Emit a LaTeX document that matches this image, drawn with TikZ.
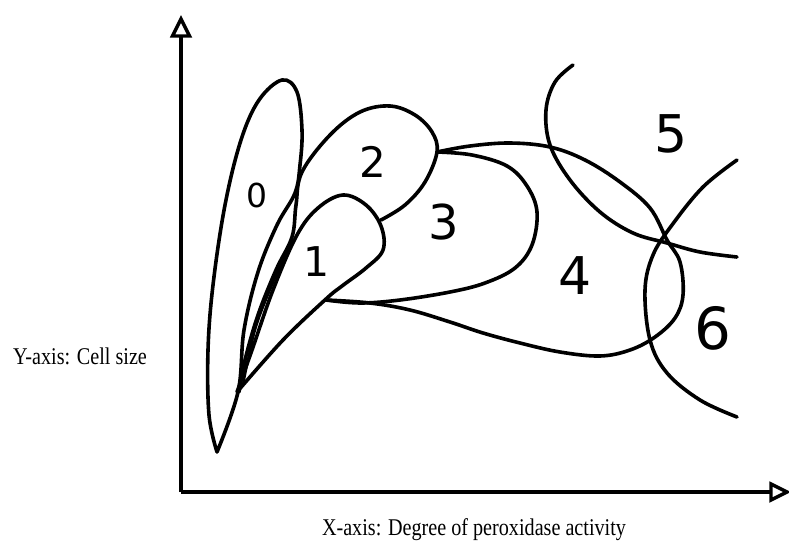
\documentclass[tikz,border=0pt]{standalone}
\usepackage{fontspec}
\setmainfont{Liberation Serif}
\newfontfamily\handfont{DejaVu Sans}
\tikzset{
  curve/.style={line width=3.6pt, line join=round, line cap=round},
  axisline/.style={line width=4pt},
  arrowtri/.style={line width=3.4pt, fill=white, line join=miter},
  digit/.style={inner sep=0pt},
  axlabel/.style={inner sep=0pt, font=\fontsize{24}{28}\selectfont}
}
\begin{document}
\begin{tikzpicture}[x=1pt,y=-1pt]
\useasboundingbox (0,0) rectangle (789,546);
% axes
\coordinate (O) at (181,492);
\coordinate (Ytop) at (181,36);
\coordinate (Xend) at (771,492);
\draw[axisline] (O) -- (Ytop);
\draw[axisline] (O) -- (Xend);
\draw[arrowtri] (181,19) -- (172.5,36) -- (189.5,36) -- cycle;
\draw[arrowtri] (771,484) -- (787,492) -- (771,500) -- cycle;
% lobe 0
\draw[curve] plot[smooth, tension=0.6] coordinates {(217,452) (209,415) (208,350) (213,285) (225,205) (241,140) (259,100) (282,80) (297,92) (302,130) (300,165) (295,193) (277,225) (258,272) (244,330) (238,392) (217,452)};
% lobe 2 left edge continuing down
\draw[curve] plot[smooth, tension=0.6] coordinates {(381,220) (405,205) (425,182) (437,152) (432,132) (415,115) (390,106) (360,112) (330,135) (302,172) (296,205) (292,237) (276,270) (258,315) (245,360) (239,392)};
% extra inner line
\draw[line width=2.4pt] plot[smooth, tension=0.6] coordinates {(292,240) (272,285) (255,330) (243,385)};
% lobe 1
\draw[curve] plot[smooth, tension=0.6] coordinates {(237,392) (252,350) (273,290) (297,235) (318,208) (343,195) (366,205) (381,226) (383,250) (366,268) (342,286) (326,299) (283,340) (237,392)};
% lobe 3
\draw[curve] plot[smooth, tension=0.6] coordinates {(437,152) (472,155) (507,166) (527,186) (537,212) (532,245) (515,268) (485,283) (450,292) (400,300) (360,303) (326,300)};
% lobe 4
\draw[curve] plot[smooth, tension=0.6] coordinates {(437,152) (470,146) (510,143) (550,147) (585,160) (620,182) (650,208) (667,240) (680,262) (683,295) (675,318) (655,337) (630,350) (600,356) (560,352) (520,343) (483,333) (450,322) (410,310) (370,303) (326,300)};
% circle 5
\draw[curve] plot[smooth, tension=0.6] coordinates {(573,65) (555,82) (546,110) (550,145) (570,180) (600,212) (633,233) (667,243) (700,252) (737,257)};
% circle 6
\draw[curve] plot[smooth, tension=0.6] coordinates {(737,160) (703,187) (672,225) (653,255) (645,290) (650,340) (667,373) (700,400) (737,417)};
% digits
\node[digit, font=\handfont\fontsize{33}{33}\selectfont] (d0) at (257,195) {0};
\node[digit, font=\handfont\fontsize{42}{42}\selectfont] (d2) at (373,162) {2};
\node[digit, font=\handfont\fontsize{41}{41}\selectfont] (d1) at (317,262) {1};
\node[digit, font=\handfont\fontsize{48}{48}\selectfont] (d3) at (444,222) {3};
\node[digit, font=\handfont\fontsize{52}{52}\selectfont] (d4) at (575,276) {4};
\node[digit, font=\handfont\fontsize{52}{52}\selectfont] (d5) at (671,134) {5};
\node[digit, font=\handfont\fontsize{58}{58}\selectfont] (d6) at (713,328) {6};
% axis labels
\node[axlabel] (ylab) at (80,356) {\scalebox{0.84}[1]{Y-axis: Cell size}};
\node[axlabel] (xlab) at (474,530) {\scalebox{0.84}[1]{X-axis: Degree of peroxidase activity}};
\end{tikzpicture}
\end{document}
